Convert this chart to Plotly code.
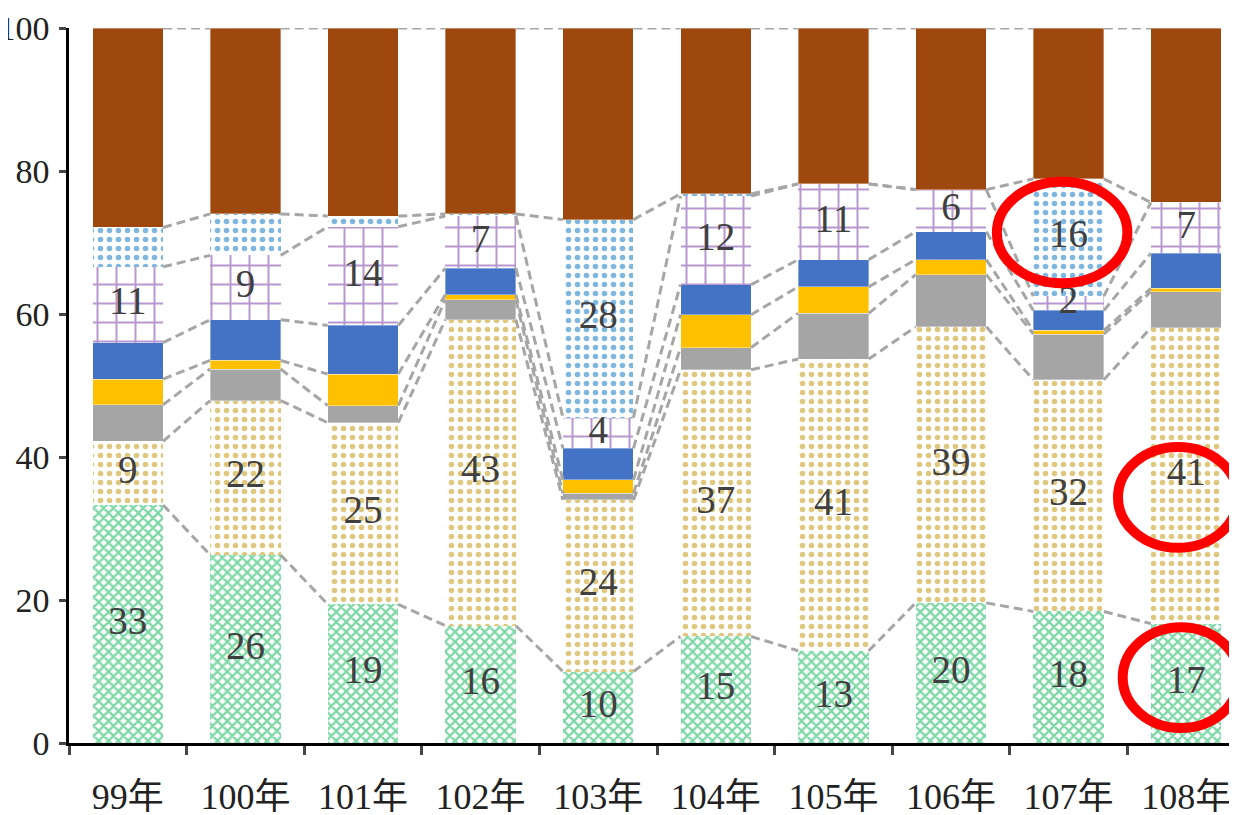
import plotly.graph_objects as go

years = ["99年", "100年", "101年", "102年", "103年", "104年", "105年", "106年", "107年", "108年"]

# stacked shares, bottom to top (%)
green = [33.3, 26.3, 19.4, 16.4, 10.0, 14.9, 12.9, 19.6, 18.4, 16.7]
tan = [8.9, 21.6, 25.4, 42.8, 24.0, 37.3, 40.8, 38.6, 32.4, 41.4]
gray = [5.1, 4.4, 2.4, 2.8, 0.9, 3.1, 6.4, 7.3, 6.4, 5.0]
yellow = [3.6, 1.2, 4.4, 0.7, 1.9, 4.6, 3.7, 2.1, 0.5, 0.5]
blue = [5.1, 5.7, 6.8, 3.7, 4.4, 4.2, 3.8, 3.9, 2.8, 4.9]
purple = [10.6, 9.0, 13.8, 7.3, 4.3, 12.4, 10.6, 5.9, 2.0, 7.1]
bluedot = [5.5, 5.8, 1.5, 0.3, 27.7, 0.3, 0.0, 0.0, 16.4, 0.0]
brown = [27.9, 26.0, 26.3, 26.0, 26.8, 23.2, 21.8, 22.6, 21.1, 24.4]

FONT = "Liberation Serif, Noto Sans CJK TC, serif"

series = [
    # values, colour, pattern shape, pattern size, solidity, labelled
    (green, "#00B050", "x", 7, 0.55, "all"),
    (tan, "#BF9000", ".", 9, 0.3, "all"),
    (gray, "#A5A5A5", "", 0, 0, None),
    (yellow, "#FFC000", "", 0, 0, None),
    (blue, "#4472C4", "", 0, 0, None),
    (purple, "#7030A0", "+", 19, 0.2, "all"),
    (bluedot, "#0070C0", ".", 9, 0.3, "big"),
    (brown, "#9E480E", "", 0, 0, None),
]

fig = go.Figure()
n = len(years)
base = [0.0] * n
tops = []
lab_x, lab_y, lab_t = [], [], []

for vals, col, shape, size, sol, lab in series:
    if shape:
        marker = dict(color="white", line=dict(width=0),
                      pattern=dict(shape=shape, fgcolor=col, bgcolor="white",
                                   size=size, solidity=sol, fillmode="overlay"))
    else:
        marker = dict(color=col, line=dict(width=0.6, color="rgba(255,255,255,0.6)"))
    fig.add_trace(go.Bar(x=years, y=vals, width=0.6, marker=marker, showlegend=False))
    for i, v in enumerate(vals):
        if lab == "all" or (lab == "big" and v >= 10):
            lab_x.append(i)
            lab_y.append(base[i] + v / 2)
            lab_t.append(f"{round(v)}")
    base = [b + v for b, v in zip(base, vals)]
    tops.append(base[:])

# dashed connectors between neighbouring bars
for top in tops:
    xs, ys = [], []
    for i in range(n - 1):
        xs += [i + 0.3, i + 0.7, None]
        ys += [top[i], top[i + 1], None]
    fig.add_trace(go.Scatter(x=xs, y=ys, xaxis="x2", mode="lines", showlegend=False,
                             line=dict(color="#A6A6A6", width=3, dash="9px,5px"),
                             hoverinfo="skip"))

fig.add_trace(go.Scatter(x=lab_x, y=lab_y, xaxis="x2", mode="text", text=lab_t,
                         textfont=dict(family=FONT, size=39, color="#404040"),
                         showlegend=False, hoverinfo="skip"))

# red highlight rings
for x0, x1, y0, y1 in [(7.39, 8.50, 64.3, 78.5), (8.42, 9.44, 27.3, 41.4), (8.46, 9.45, 2.1, 16.2)]:
    fig.add_shape(type="circle", xref="x2", yref="y", x0=x0, x1=x1, y0=y0, y1=y1,
                  line=dict(color="#FF0000", width=10))

fig.update_layout(
    barmode="stack",
    width=1237, height=815,
    margin=dict(l=61, r=0, t=20, b=80),
    plot_bgcolor="white", paper_bgcolor="white",
    font=dict(family=FONT, color="black"),
    xaxis=dict(type="category", showline=True, linecolor="black", linewidth=2.5,
               ticks="outside", tickson="boundaries", ticklen=9, tickwidth=2.5,
               tickfont=dict(size=36, color="#222222"), showgrid=False,
               ticklabelstandoff=20, automargin=False),
    xaxis2=dict(overlaying="x", range=[-0.5, 9.5], visible=False),
    yaxis=dict(range=[0, 100], tickvals=[0, 20, 40, 60, 80, 100], showline=True,
               linecolor="black", linewidth=2.5, ticks="outside", ticklen=7, tickwidth=2.5,
               tickfont=dict(size=34, color="#222222"), showgrid=False, zeroline=False,
               ticklabelstandoff=3, automargin=False),
)

fig.write_html("out.html")
